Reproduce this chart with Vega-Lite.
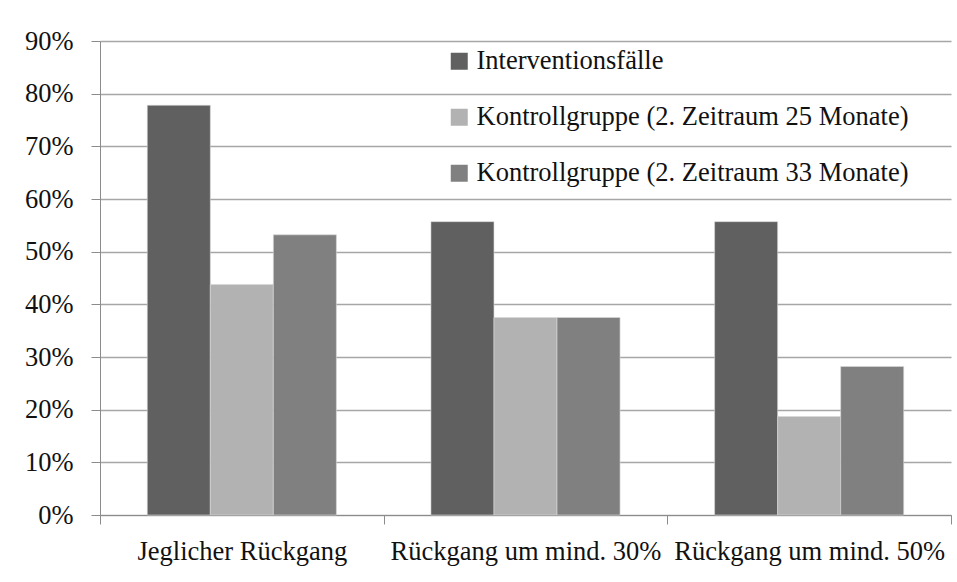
{
  "$schema": "https://vega.github.io/schema/vega-lite/v6.json",
  "autosize": {"type": "none"},
  "width": 851,
  "height": 474,
  "padding": {"left": 100, "top": 41, "right": 6, "bottom": 67},
  "background": "white",
  "data": {
    "values": [
      {"kategorie": "Jeglicher Rückgang", "gruppe": "Interventionsfälle", "anteil": 0.778},
      {"kategorie": "Jeglicher Rückgang", "gruppe": "Kontrollgruppe (2. Zeitraum 25 Monate)", "anteil": 0.4375},
      {"kategorie": "Jeglicher Rückgang", "gruppe": "Kontrollgruppe (2. Zeitraum 33 Monate)", "anteil": 0.532},
      {"kategorie": "Rückgang um mind. 30%", "gruppe": "Interventionsfälle", "anteil": 0.557},
      {"kategorie": "Rückgang um mind. 30%", "gruppe": "Kontrollgruppe (2. Zeitraum 25 Monate)", "anteil": 0.375},
      {"kategorie": "Rückgang um mind. 30%", "gruppe": "Kontrollgruppe (2. Zeitraum 33 Monate)", "anteil": 0.375},
      {"kategorie": "Rückgang um mind. 50%", "gruppe": "Interventionsfälle", "anteil": 0.557},
      {"kategorie": "Rückgang um mind. 50%", "gruppe": "Kontrollgruppe (2. Zeitraum 25 Monate)", "anteil": 0.187},
      {"kategorie": "Rückgang um mind. 50%", "gruppe": "Kontrollgruppe (2. Zeitraum 33 Monate)", "anteil": 0.282}
    ]
  },
  "mark": {"type": "bar", "stroke": "#d8d8d8", "strokeWidth": 0.6},
  "encoding": {
    "x": {
      "field": "kategorie",
      "type": "nominal",
      "sort": null,
      "scale": {"paddingInner": 0, "paddingOuter": 0},
      "axis": {
        "title": null,
        "labelAngle": 0,
        "tickBand": "extent",
        "tickSize": 9,
        "tickColor": "#8c8c8c",
        "domainColor": "#8c8c8c",
        "labelPadding": 14,
        "labelFont": "Liberation Serif",
        "labelFontSize": 26.5,
        "labelColor": "#111111",
        "labelLimit": 400,
        "grid": false
      }
    },
    "xOffset": {
      "field": "gruppe",
      "type": "nominal",
      "sort": null,
      "scale": {"paddingInner": 0, "paddingOuter": 0.75}
    },
    "y": {
      "field": "anteil",
      "type": "quantitative",
      "scale": {"domain": [0, 0.9], "nice": false},
      "axis": {
        "title": null,
        "format": ".0%",
        "values": [0, 0.1, 0.2, 0.3, 0.4, 0.5, 0.6, 0.7, 0.8, 0.9],
        "grid": true,
        "gridColor": "#a6a6a6",
        "gridWidth": 1.3,
        "tickSize": 9,
        "tickColor": "#8c8c8c",
        "domainColor": "#8c8c8c",
        "labelPadding": 18,
        "labelFont": "Liberation Serif",
        "labelFontSize": 26.5,
        "labelColor": "#111111"
      }
    },
    "color": {
      "field": "gruppe",
      "type": "nominal",
      "sort": null,
      "scale": {
        "domain": ["Interventionsfälle", "Kontrollgruppe (2. Zeitraum 25 Monate)", "Kontrollgruppe (2. Zeitraum 33 Monate)"],
        "range": ["#606060", "#b2b2b2", "#808080"]
      },
      "legend": {
        "title": null,
        "orient": "none",
        "legendX": 346,
        "legendY": 7,
        "padding": 0,
        "symbolType": "square",
        "symbolSize": 289,
        "symbolStrokeWidth": 0,
        "symbolOpacity": 1,
        "labelFont": "Liberation Serif",
        "labelFontSize": 26.5,
        "labelColor": "#111111",
        "labelOffset": 4,
        "labelLimit": 600,
        "rowPadding": 29
      }
    }
  },
  "config": {
    "view": {"stroke": null}
  }
}
